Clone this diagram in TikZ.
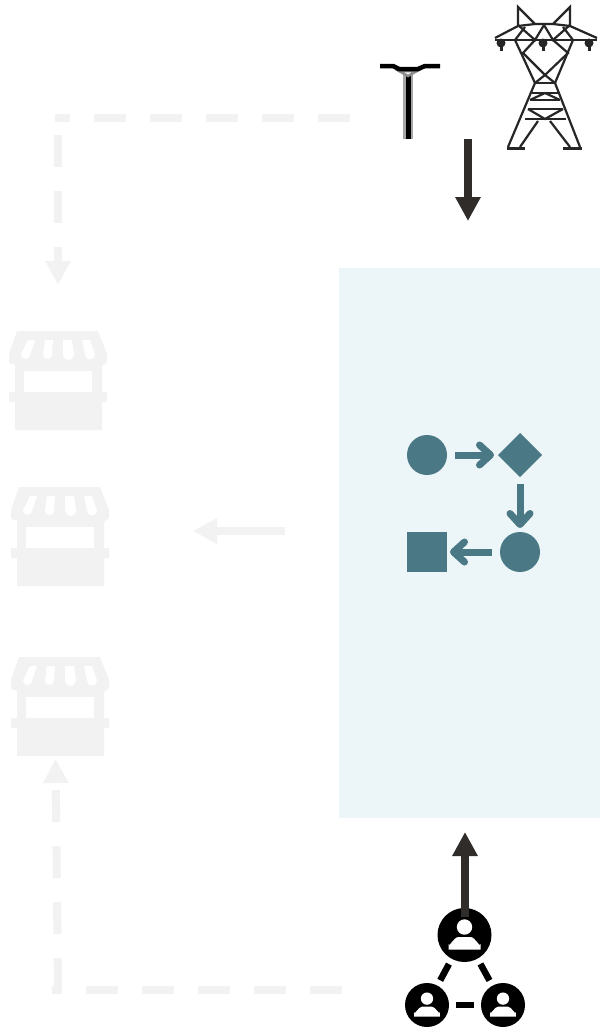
\documentclass[tikz,border=0pt]{standalone}
\usetikzlibrary{arrows.meta,shapes.geometric}
\definecolor{panelbg}{HTML}{ECF5F7}
\definecolor{flowteal}{HTML}{4A7885}
\definecolor{inkdark}{HTML}{2F2C2A}
\definecolor{storegray}{HTML}{F2F2F2}
\tikzset{
  storeicon/.pic={
    \fill[storegray] (-41,-49) -- (40,-49) -- (49,-26) [rounded corners=3pt] -- (49,-16) -- (44,-16) [sharp corners] -- (44,12) -- (49,12) -- (49,22) -- (44,22) -- (44,50) -- (-43,50) -- (-43,22) -- (-49,22) -- (-49,12) -- (-43,12) -- (-43,-16) [rounded corners=3pt] -- (-49,-16) -- (-49,-26) [sharp corners] -- cycle;
    \fill[white] (-34,-9) rectangle (34,12);
    \foreach \topa/\topb/\bota/\botb/\midx/\rad in {-30/-23/-37/-28/-32.5/4.5,-13/-5/-15/-6/-10.5/4.5,5/14/5/16/10.5/5.5,24/32/27/37/32/5}{
      \fill[white] (\topa,-40) -- (\topb,-40) -- (\botb,-25.5) -- (\bota,-25.5) -- cycle;
      \fill[white] (\midx,-25.5) circle (\rad);
    }
  },
  personicon/.pic={
    \fill[white] (0,-8) circle (7.7);
    \fill[white] (-16,14.5) -- (-16,9) to[out=-90,in=180] (-6,2) -- (6,2) to[out=0,in=-90] (16,9) -- (16,14.5) -- cycle;
  }
}
\begin{document}
\begin{tikzpicture}[x=1pt,y=-1pt,
    panel/.style={rectangle,fill=panelbg,minimum width=261pt,minimum height=550pt,inner sep=0pt,outer sep=0pt},
    flowdot/.style={circle,fill=flowteal,minimum size=40pt,inner sep=0pt,outer sep=0pt},
    flowbox/.style={rectangle,fill=flowteal,minimum size=40pt,inner sep=0pt,outer sep=0pt},
    flowdia/.style={diamond,fill=flowteal,minimum width=44pt,minimum height=44pt,inner sep=0pt,outer sep=0pt},
    flowarr/.style={draw=flowteal,line width=7pt,-{Straight Barb[round,length=11pt,width=20pt,line width=7pt]}},
    solidarr/.style={draw=inkdark,line width=8pt,-{Triangle[length=24pt,width=24pt]}},
    fadearr/.style={draw=storegray,line width=8pt,-{Triangle[length=24pt,width=24pt]}},
    fadedash/.style={fadearr,dash pattern=on 32pt off 24pt},
    fadeline/.style={draw=storegray,line width=8pt,dash pattern=on 32pt off 24pt},
    hubdot/.style={circle,fill=black,inner sep=0pt,outer sep=0pt},
    hubline/.style={draw=black,line width=6.5pt},
    towerline/.style={draw=black!85,line width=2.2pt}
  ]
  \useasboundingbox (0,0) rectangle (600,1028);
  \fill[white] (0,0) rectangle (600,1028);

  % panel and flow
  \node[panel] (pnl) at (469.5,543) {};
  \node[flowdot] (fa) at (427,455) {};
  \node[flowdia] (fb) at (520,455) {};
  \node[flowdot] (fc) at (520,552) {};
  \node[flowbox] (fd) at (427,552) {};
  \draw[flowarr,shorten <=8pt,shorten >=4pt] (fa) -- (fb);
  \draw[flowarr,shorten <=7pt,shorten >=4pt] (fb) -- (fc);
  \draw[flowarr,shorten <=8pt,shorten >=3pt] (fc) -- (fd);

  % pole
  \coordinate (polefoot) at (408,139);
  \coordinate (polehead) at (408,74);
  \draw[line width=10pt,draw=black!35] (polefoot) -- (polehead);
  \draw[line width=5pt,draw=black] (polefoot) -- (polehead);
  \filldraw[line width=2.5pt,draw=black!45,fill=white] (399,71) -- (417,71) -- (408,76) -- cycle;
  \draw[line width=4.5pt,draw=black] (380,66) -- (393,66) -- (399,69) -- (418,69) -- (425,66) -- (440,66);

  % tower
  \draw[towerline] (518,25) -- (518,7) -- (535,24) -- (553,24) -- (570,7) -- (570,25);
  \draw[towerline] (495,38) -- (518,26) -- (535,24) (553,24) -- (570,26) -- (597,38);
  \draw[towerline,line width=2.5pt] (495,40) -- (597,40);
  \draw[towerline] (518,25) -- (535,40) -- (544,25) -- (553,40) -- (570,25) (515,40) -- (525,27) (573,40) -- (563,27);
  \draw[towerline] (515,40) -- (535,83) -- (508,147) (573,40) -- (555,83) -- (580,147);
  \draw[towerline] (535,40) -- (523,53) -- (545,75) -- (568,53) -- (553,40);
  \draw[towerline] (535,83) -- (555,83) (532,93) -- (558,93) (530,100) -- (560,100) (528,109) -- (563,109) (525,119) -- (566,119);
  \draw[towerline] (535,83) -- (545,75) -- (555,83) (530,100) -- (545,93) -- (560,100) (528,109) -- (545,119) -- (563,109);
  \draw[towerline] (538,121) -- (520,147) (550,121) -- (570,147);
  \draw[line width=3pt,draw=black!85] (507,148) -- (525,148) (563,148) -- (582,148);
  \fill[black!85] (501,43) circle (4.5) (543,43) circle (4.5) (589,43) circle (4.5);
  \draw[line width=3pt,draw=black!85] (501,42) -- (501,51) (543,42) -- (543,51) (589,42) -- (589,51);

  % stores
  \pic (storea) at (58,380) {storeicon};
  \pic (storeb) at (60,536) {storeicon};
  \pic (storec) at (60,706) {storeicon};

  % faded routes
  \coordinate (ruta) at (350,118);
  \coordinate (rutb) at (55,118);
  \coordinate (rutc) at (58,135);
  \coordinate (rutd) at (58,285);
  \draw[fadeline] (ruta) -- (rutb);
  \draw[fadedash] (rutc) -- (rutd);
  \coordinate (rdta) at (342,990);
  \coordinate (rdtb) at (52,990);
  \coordinate (rdtc) at (58,986);
  \coordinate (rdtd) at (55.5,759);
  \draw[fadeline] (rdta) -- (rdtb);
  \draw[fadedash,dash phase=4pt] (rdtc) -- (rdtd);
  \coordinate (mida) at (285,531);
  \coordinate (midb) at (193,531);
  \draw[fadearr] (mida) -- (midb);

  % hub
  \node[hubdot,minimum size=54pt] (ha) at (464.5,935) {};
  \node[hubdot,minimum size=44pt] (hb) at (427,1005) {};
  \node[hubdot,minimum size=44pt] (hc) at (503,1005) {};
  \pic (pa) at (464.5,935) {personicon};
  \pic[scale=.8] (pb) at (427,1005) {personicon};
  \pic[scale=.8] (pc) at (503,1005) {personicon};
  \draw[hubline,shorten <=6pt,shorten >=6pt] (ha) -- (hb);
  \draw[hubline,shorten <=6pt,shorten >=6pt] (ha) -- (hc);
  \draw[hubline,shorten <=7pt,shorten >=7pt] (hb) -- (hc);

  % dark arrows
  \coordinate (ina) at (468,139);
  \coordinate (inb) at (468,221);
  \draw[solidarr] (ina) -- (inb);
  \coordinate (upa) at (465,917);
  \coordinate (upb) at (465,832);
  \draw[solidarr] (upa) -- (upb);
\end{tikzpicture}
\end{document}
